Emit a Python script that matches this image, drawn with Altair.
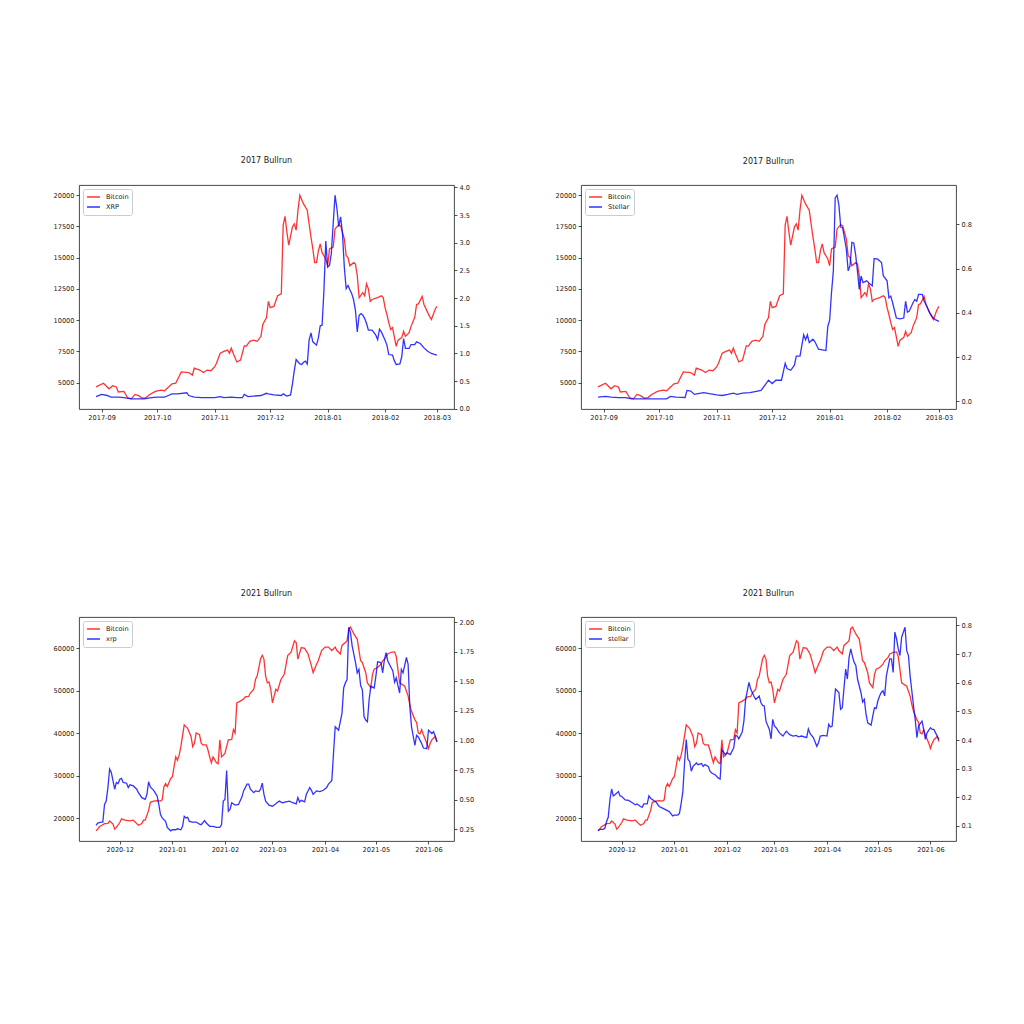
import altair as alt
import pandas as pd

# ---------------- 2017 data ----------------
btc17_dates = ["2017-08-29","2017-09-02","2017-09-05","2017-09-07","2017-09-09","2017-09-10","2017-09-13","2017-09-15","2017-09-17","2017-09-19","2017-09-21","2017-09-23","2017-09-25","2017-09-27","2017-09-30","2017-10-03","2017-10-05","2017-10-09","2017-10-11","2017-10-14","2017-10-18","2017-10-20","2017-10-21","2017-10-24","2017-10-26","2017-10-28","2017-10-30","2017-11-01","2017-11-02","2017-11-04","2017-11-06","2017-11-08","2017-11-09","2017-11-10","2017-11-11","2017-11-13","2017-11-15","2017-11-17","2017-11-18","2017-11-20","2017-11-22","2017-11-24","2017-11-26","2017-11-27","2017-11-29","2017-11-30","2017-12-01","2017-12-03","2017-12-05","2017-12-07","2017-12-08","2017-12-09","2017-12-10","2017-12-11","2017-12-13","2017-12-14","2017-12-15","2017-12-16","2017-12-17","2017-12-19","2017-12-21","2017-12-22","2017-12-23","2017-12-24","2017-12-25","2017-12-26","2017-12-27","2017-12-28","2017-12-29","2017-12-31","2018-01-01","2018-01-02","2018-01-04","2018-01-05","2018-01-07","2018-01-08","2018-01-10","2018-01-11","2018-01-12","2018-01-13","2018-01-15","2018-01-16","2018-01-17","2018-01-18","2018-01-20","2018-01-21","2018-01-22","2018-01-23","2018-01-24","2018-01-25","2018-01-28","2018-01-30","2018-01-31","2018-02-01","2018-02-02","2018-02-03","2018-02-04","2018-02-05","2018-02-07","2018-02-08","2018-02-10","2018-02-11","2018-02-12","2018-02-14","2018-02-15","2018-02-17","2018-02-18","2018-02-19","2018-02-21","2018-02-22","2018-02-24","2018-02-25","2018-02-26","2018-02-28","2018-03-01"]
btc17_vals = [4650,4950,4500,4750,4650,4250,4300,3800,3700,4050,3950,3750,3800,4050,4300,4400,4350,4900,4950,5850,5800,5600,6150,6000,5800,6000,5950,6250,6550,7350,7500,7600,7350,7750,7350,6650,6800,7950,7900,8300,8400,8300,8700,9650,10200,11500,11000,11100,11950,12100,17600,18300,17050,16000,17450,17700,17200,18800,20000,19300,18800,17700,16650,15700,14600,14600,15550,16100,15400,14900,14350,15700,15850,17300,17650,17550,16500,15150,15000,14350,14600,14500,13550,11800,12200,11950,12900,12500,11500,11650,11800,11950,11800,11000,10450,9800,9250,9400,7900,8400,8600,9100,8700,9000,9500,10200,11250,11300,11900,11250,10600,10300,10050,10850,11100]

xrp17_dates = ["2017-08-29","2017-09-01","2017-09-04","2017-09-06","2017-09-10","2017-09-13","2017-09-17","2017-09-21","2017-09-24","2017-09-28","2017-10-01","2017-10-05","2017-10-07","2017-10-09","2017-10-12","2017-10-17","2017-10-18","2017-10-21","2017-10-25","2017-10-28","2017-11-01","2017-11-04","2017-11-06","2017-11-10","2017-11-13","2017-11-16","2017-11-17","2017-11-19","2017-11-22","2017-11-26","2017-11-29","2017-11-30","2017-12-03","2017-12-07","2017-12-08","2017-12-10","2017-12-12","2017-12-13","2017-12-14","2017-12-15","2017-12-16","2017-12-17","2017-12-18","2017-12-19","2017-12-20","2017-12-21","2017-12-22","2017-12-23","2017-12-24","2017-12-25","2017-12-26","2017-12-27","2017-12-28","2017-12-29","2017-12-30","2017-12-31","2018-01-01","2018-01-02","2018-01-03","2018-01-04","2018-01-05","2018-01-06","2018-01-07","2018-01-08","2018-01-09","2018-01-10","2018-01-11","2018-01-12","2018-01-13","2018-01-14","2018-01-15","2018-01-16","2018-01-17","2018-01-18","2018-01-19","2018-01-20","2018-01-21","2018-01-22","2018-01-23","2018-01-25","2018-01-27","2018-01-28","2018-01-29","2018-01-30","2018-02-01","2018-02-02","2018-02-03","2018-02-05","2018-02-06","2018-02-07","2018-02-09","2018-02-10","2018-02-11","2018-02-12","2018-02-14","2018-02-15","2018-02-17","2018-02-18","2018-02-20","2018-02-22","2018-02-24","2018-02-26","2018-02-28","2018-03-01"]
xrp17_vals = [0.22,0.26,0.24,0.21,0.21,0.20,0.18,0.18,0.18,0.20,0.21,0.21,0.24,0.27,0.27,0.29,0.24,0.21,0.20,0.20,0.20,0.22,0.20,0.21,0.20,0.20,0.26,0.22,0.23,0.24,0.28,0.27,0.25,0.24,0.27,0.23,0.25,0.45,0.69,0.89,0.85,0.81,0.80,0.84,0.86,0.81,1.24,1.37,1.21,1.18,1.15,1.28,1.50,1.51,2.14,3.03,2.56,2.59,2.81,3.35,3.86,3.62,3.29,3.47,3.17,2.56,2.17,2.23,2.15,2.08,1.97,1.78,1.39,1.69,1.72,1.69,1.63,1.54,1.42,1.42,1.33,1.25,1.44,1.39,1.24,1.15,0.98,0.97,0.87,0.80,0.81,0.94,1.27,1.09,1.09,1.16,1.16,1.21,1.18,1.10,1.04,1.00,0.98,0.97]

xlm17_dates = ["2017-08-29","2017-09-02","2017-09-05","2017-09-09","2017-09-13","2017-09-16","2017-09-20","2017-09-24","2017-09-30","2017-10-05","2017-10-07","2017-10-10","2017-10-15","2017-10-16","2017-10-18","2017-10-20","2017-10-22","2017-10-25","2017-10-28","2017-11-01","2017-11-04","2017-11-07","2017-11-10","2017-11-12","2017-11-15","2017-11-19","2017-11-25","2017-11-27","2017-11-29","2017-12-01","2017-12-03","2017-12-06","2017-12-07","2017-12-08","2017-12-09","2017-12-11","2017-12-13","2017-12-14","2017-12-16","2017-12-18","2017-12-19","2017-12-20","2017-12-21","2017-12-23","2017-12-24","2017-12-26","2017-12-28","2017-12-30","2017-12-31","2018-01-01","2018-01-02","2018-01-03","2018-01-04","2018-01-05","2018-01-06","2018-01-07","2018-01-08","2018-01-10","2018-01-11","2018-01-12","2018-01-13","2018-01-14","2018-01-15","2018-01-16","2018-01-17","2018-01-18","2018-01-19","2018-01-21","2018-01-22","2018-01-24","2018-01-25","2018-01-27","2018-01-29","2018-01-30","2018-02-01","2018-02-02","2018-02-03","2018-02-04","2018-02-06","2018-02-08","2018-02-10","2018-02-11","2018-02-12","2018-02-13","2018-02-15","2018-02-16","2018-02-17","2018-02-18","2018-02-20","2018-02-21","2018-02-22","2018-02-24","2018-02-26","2018-02-27","2018-03-01"]
xlm17_vals = [0.020,0.023,0.020,0.017,0.017,0.012,0.012,0.012,0.012,0.012,0.023,0.020,0.018,0.050,0.047,0.032,0.035,0.040,0.035,0.030,0.027,0.032,0.038,0.032,0.038,0.040,0.050,0.073,0.096,0.081,0.096,0.096,0.134,0.172,0.149,0.141,0.164,0.205,0.205,0.301,0.278,0.301,0.266,0.281,0.271,0.236,0.233,0.230,0.339,0.367,0.491,0.590,0.920,0.932,0.887,0.788,0.785,0.689,0.590,0.613,0.719,0.716,0.666,0.590,0.506,0.567,0.537,0.545,0.537,0.522,0.646,0.643,0.628,0.567,0.545,0.468,0.476,0.446,0.377,0.373,0.377,0.453,0.403,0.408,0.446,0.461,0.453,0.484,0.484,0.453,0.438,0.400,0.377,0.370,0.362]

# ---------------- 2021 data ----------------
btc21_dates = ["2020-11-17","2020-11-18","2020-11-19","2020-11-20","2020-11-22","2020-11-24","2020-11-25","2020-11-27","2020-11-28","2020-11-29","2020-12-01","2020-12-02","2020-12-04","2020-12-07","2020-12-09","2020-12-11","2020-12-12","2020-12-14","2020-12-15","2020-12-16","2020-12-18","2020-12-19","2020-12-21","2020-12-23","2020-12-25","2020-12-26","2020-12-27","2020-12-28","2020-12-29","2020-12-31","2021-01-01","2021-01-02","2021-01-03","2021-01-04","2021-01-05","2021-01-06","2021-01-08","2021-01-09","2021-01-10","2021-01-12","2021-01-13","2021-01-14","2021-01-15","2021-01-17","2021-01-18","2021-01-19","2021-01-21","2021-01-22","2021-01-23","2021-01-24","2021-01-25","2021-01-27","2021-01-28","2021-01-29","2021-01-30","2021-02-01","2021-02-02","2021-02-03","2021-02-05","2021-02-06","2021-02-07","2021-02-08","2021-02-10","2021-02-12","2021-02-13","2021-02-15","2021-02-16","2021-02-18","2021-02-19","2021-02-20","2021-02-22","2021-02-23","2021-02-24","2021-02-25","2021-02-26","2021-02-27","2021-02-28","2021-03-01","2021-03-03","2021-03-04","2021-03-06","2021-03-08","2021-03-10","2021-03-12","2021-03-14","2021-03-15","2021-03-16","2021-03-18","2021-03-20","2021-03-22","2021-03-24","2021-03-25","2021-03-27","2021-03-28","2021-03-30","2021-04-01","2021-04-03","2021-04-04","2021-04-05","2021-04-07","2021-04-08","2021-04-10","2021-04-11","2021-04-13","2021-04-14","2021-04-15","2021-04-16","2021-04-17","2021-04-18","2021-04-20","2021-04-21","2021-04-22","2021-04-23","2021-04-25","2021-04-26","2021-04-28","2021-04-29","2021-04-30","2021-05-02","2021-05-04","2021-05-05","2021-05-07","2021-05-08","2021-05-10","2021-05-12","2021-05-13","2021-05-15","2021-05-18","2021-05-20","2021-05-21","2021-05-22","2021-05-24","2021-05-25","2021-05-26","2021-05-27","2021-05-28","2021-05-29","2021-05-31","2021-06-01","2021-06-02","2021-06-03","2021-06-05","2021-06-06"]
btc21_vals = [17000,17400,17950,18200,18700,18750,19300,18600,17400,17800,18950,19800,19500,19350,19500,18700,18300,18700,19500,19500,21800,23700,24000,24100,24000,24300,27300,28100,27400,29300,29700,32100,34400,33600,34800,36800,41900,41500,41100,39200,36800,37600,40000,39600,37600,37200,37200,36000,34400,33000,34400,33000,32800,38400,34400,35200,36800,38400,38500,40800,40000,47100,47500,48000,48500,48600,49400,50300,52600,53400,57400,58300,57400,53400,51800,52000,50300,47100,50300,49900,52600,53800,58200,59000,61700,61300,57400,60100,59900,58600,55800,54200,56200,57000,59400,60200,60200,59800,59400,60200,59400,58600,60600,61300,61700,64500,64900,64100,63300,62100,59500,57000,56600,54200,51800,50700,53800,55000,55400,56200,57000,57800,58600,59000,59100,58000,51800,51000,48700,46700,45100,43100,42500,40000,39800,40800,39600,37600,36400,37600,38400,39200,38000]

xrp21_dates = ["2020-11-17","2020-11-18","2020-11-20","2020-11-21","2020-11-22","2020-11-23","2020-11-24","2020-11-25","2020-11-26","2020-11-27","2020-11-28","2020-11-29","2020-11-30","2020-12-01","2020-12-02","2020-12-03","2020-12-05","2020-12-06","2020-12-07","2020-12-09","2020-12-11","2020-12-12","2020-12-14","2020-12-16","2020-12-17","2020-12-18","2020-12-19","2020-12-21","2020-12-23","2020-12-24","2020-12-25","2020-12-26","2020-12-28","2020-12-29","2020-12-31","2021-01-01","2021-01-03","2021-01-04","2021-01-06","2021-01-07","2021-01-08","2021-01-09","2021-01-10","2021-01-11","2021-01-13","2021-01-15","2021-01-17","2021-01-18","2021-01-20","2021-01-21","2021-01-23","2021-01-25","2021-01-27","2021-01-29","2021-01-30","2021-01-31","2021-02-01","2021-02-02","2021-02-03","2021-02-04","2021-02-05","2021-02-07","2021-02-09","2021-02-11","2021-02-12","2021-02-14","2021-02-15","2021-02-16","2021-02-18","2021-02-19","2021-02-21","2021-02-22","2021-02-23","2021-02-24","2021-02-25","2021-02-27","2021-03-01","2021-03-03","2021-03-05","2021-03-07","2021-03-09","2021-03-11","2021-03-13","2021-03-15","2021-03-16","2021-03-17","2021-03-18","2021-03-20","2021-03-21","2021-03-23","2021-03-24","2021-03-25","2021-03-27","2021-03-29","2021-03-31","2021-04-02","2021-04-03","2021-04-05","2021-04-06","2021-04-07","2021-04-08","2021-04-09","2021-04-11","2021-04-12","2021-04-13","2021-04-14","2021-04-15","2021-04-16","2021-04-17","2021-04-19","2021-04-20","2021-04-21","2021-04-22","2021-04-23","2021-04-24","2021-04-25","2021-04-26","2021-04-27","2021-04-28","2021-04-30","2021-05-01","2021-05-02","2021-05-04","2021-05-05","2021-05-06","2021-05-07","2021-05-08","2021-05-10","2021-05-11","2021-05-12","2021-05-13","2021-05-15","2021-05-16","2021-05-17","2021-05-19","2021-05-20","2021-05-21","2021-05-22","2021-05-24","2021-05-25","2021-05-26","2021-05-28","2021-05-29","2021-05-31","2021-06-01","2021-06-03","2021-06-04","2021-06-05","2021-06-06"]
xrp21_vals = [0.284,0.304,0.312,0.312,0.461,0.489,0.603,0.760,0.731,0.660,0.589,0.646,0.637,0.674,0.680,0.646,0.640,0.603,0.626,0.617,0.589,0.560,0.518,0.503,0.546,0.652,0.609,0.580,0.532,0.461,0.375,0.347,0.318,0.267,0.238,0.247,0.247,0.255,0.247,0.276,0.361,0.347,0.352,0.318,0.312,0.312,0.295,0.290,0.324,0.304,0.276,0.276,0.267,0.267,0.290,0.489,0.503,0.746,0.404,0.418,0.475,0.455,0.461,0.523,0.575,0.632,0.632,0.589,0.560,0.575,0.569,0.589,0.640,0.546,0.489,0.455,0.446,0.466,0.489,0.475,0.483,0.489,0.475,0.466,0.518,0.481,0.495,0.483,0.546,0.603,0.580,0.546,0.575,0.569,0.580,0.603,0.632,0.660,0.888,1.116,1.102,1.088,1.230,1.444,1.487,1.515,1.957,1.914,1.800,1.658,1.572,1.601,1.464,1.430,1.202,1.173,1.159,1.344,1.458,1.444,1.544,1.664,1.658,1.572,1.681,1.743,1.672,1.615,1.587,1.493,1.530,1.401,1.601,1.572,1.701,1.644,1.287,1.116,0.960,1.045,1.031,0.974,0.937,0.931,1.088,1.059,1.074,1.037,0.988]

xlm21_dates = ["2020-11-17","2020-11-18","2020-11-20","2020-11-21","2020-11-22","2020-11-23","2020-11-24","2020-11-25","2020-11-26","2020-11-27","2020-11-29","2020-11-30","2020-12-01","2020-12-03","2020-12-05","2020-12-07","2020-12-09","2020-12-10","2020-12-12","2020-12-13","2020-12-14","2020-12-16","2020-12-17","2020-12-18","2020-12-20","2020-12-21","2020-12-23","2020-12-25","2020-12-27","2020-12-29","2020-12-31","2021-01-01","2021-01-03","2021-01-04","2021-01-05","2021-01-06","2021-01-07","2021-01-08","2021-01-09","2021-01-10","2021-01-11","2021-01-12","2021-01-14","2021-01-15","2021-01-17","2021-01-18","2021-01-19","2021-01-21","2021-01-22","2021-01-23","2021-01-25","2021-01-27","2021-01-28","2021-01-29","2021-01-31","2021-02-01","2021-02-03","2021-02-05","2021-02-06","2021-02-07","2021-02-08","2021-02-10","2021-02-11","2021-02-12","2021-02-14","2021-02-15","2021-02-17","2021-02-18","2021-02-20","2021-02-21","2021-02-22","2021-02-23","2021-02-24","2021-02-26","2021-02-27","2021-02-28","2021-03-01","2021-03-02","2021-03-04","2021-03-06","2021-03-08","2021-03-10","2021-03-12","2021-03-14","2021-03-15","2021-03-17","2021-03-20","2021-03-21","2021-03-22","2021-03-24","2021-03-26","2021-03-27","2021-03-28","2021-03-30","2021-04-01","2021-04-02","2021-04-03","2021-04-04","2021-04-05","2021-04-06","2021-04-08","2021-04-09","2021-04-10","2021-04-12","2021-04-13","2021-04-14","2021-04-15","2021-04-16","2021-04-17","2021-04-18","2021-04-19","2021-04-21","2021-04-22","2021-04-23","2021-04-24","2021-04-25","2021-04-27","2021-04-28","2021-04-29","2021-04-30","2021-05-01","2021-05-02","2021-05-03","2021-05-04","2021-05-05","2021-05-06","2021-05-08","2021-05-09","2021-05-10","2021-05-11","2021-05-12","2021-05-13","2021-05-14","2021-05-15","2021-05-17","2021-05-18","2021-05-19","2021-05-20","2021-05-22","2021-05-23","2021-05-24","2021-05-25","2021-05-27","2021-05-28","2021-05-29","2021-05-30","2021-06-01","2021-06-02","2021-06-03","2021-06-04","2021-06-06"]
xlm21_vals = [0.083,0.088,0.088,0.092,0.115,0.130,0.191,0.229,0.205,0.209,0.220,0.205,0.203,0.191,0.189,0.182,0.174,0.177,0.168,0.165,0.177,0.177,0.205,0.197,0.188,0.185,0.168,0.162,0.156,0.150,0.135,0.138,0.138,0.144,0.179,0.220,0.320,0.402,0.332,0.326,0.291,0.308,0.320,0.314,0.318,0.308,0.314,0.308,0.291,0.285,0.279,0.267,0.264,0.367,0.349,0.355,0.349,0.373,0.416,0.414,0.404,0.428,0.466,0.542,0.601,0.578,0.552,0.542,0.554,0.531,0.521,0.519,0.466,0.437,0.404,0.472,0.449,0.443,0.425,0.414,0.431,0.419,0.414,0.416,0.411,0.414,0.408,0.439,0.423,0.408,0.378,0.390,0.414,0.416,0.414,0.455,0.446,0.448,0.513,0.578,0.566,0.507,0.513,0.648,0.613,0.689,0.718,0.692,0.671,0.660,0.613,0.566,0.533,0.542,0.490,0.460,0.452,0.484,0.513,0.510,0.537,0.554,0.566,0.572,0.554,0.624,0.683,0.683,0.636,0.777,0.753,0.718,0.695,0.759,0.794,0.712,0.695,0.624,0.519,0.472,0.408,0.449,0.466,0.437,0.402,0.425,0.443,0.437,0.437,0.425,0.402]

ticks17 = ["2017-09-01","2017-10-01","2017-11-01","2017-12-01","2018-01-01","2018-02-01","2018-03-01"]
ticks21 = ["2020-12-01","2021-01-01","2021-02-01","2021-03-01","2021-04-01","2021-05-01","2021-06-01"]

FONT = "DejaVu Sans"
W, H = 375, 224


def ms(s):
    return int(pd.Timestamp(s).value // 10**6)


def margin_domain(vals, frac=0.05):
    lo, hi = min(vals), max(vals)
    r = hi - lo
    return [lo - frac * r, hi + frac * r]


def panel(title, ldates, lvals, rdates, rvals, rname, lticks, rticks, rfmt, xticks):
    d0 = min(pd.Timestamp(x) for x in ldates + rdates)
    d1 = max(pd.Timestamp(x) for x in ldates + rdates)
    pad = (d1 - d0) * 0.05
    xdom = [int((d0 - pad).value // 10**6), int((d1 + pad).value // 10**6)]
    left = pd.DataFrame({"date": ldates, "value": lvals, "series": "Bitcoin"})
    right = pd.DataFrame({"date": rdates, "value": rvals, "series": rname})
    color = alt.Color(
        "series:N",
        scale=alt.Scale(domain=["Bitcoin", rname], range=["red", "blue"]),
        legend=alt.Legend(
            title=None, orient="top-left", offset=4, padding=3,
            strokeColor="#cccccc", fillColor="white", cornerRadius=2,
            symbolType="stroke", symbolSize=170, symbolStrokeWidth=1.5,
            symbolOpacity=0.8, labelFont=FONT, labelFontSize=6.6,
            labelColor="#222", labelOffset=5, rowPadding=0, clipHeight=10,
        ),
    )
    x = alt.X(
        "date:T",
        scale=alt.Scale(type="utc", domain=xdom),
        axis=alt.Axis(values=[ms(t) for t in xticks],
                      labelExpr="utcFormat(datum.value, '%Y-%m')",
                      title=None, labelFlush=False, labelOverlap=False),
    )
    l = alt.Chart(left).mark_line(strokeWidth=1.3, opacity=0.8).encode(
        x=x,
        y=alt.Y("value:Q",
                scale=alt.Scale(domain=margin_domain(lvals), nice=False, zero=False),
                axis=alt.Axis(orient="left", values=lticks, format="d", title=None)),
        color=color,
    )
    r = alt.Chart(right).mark_line(strokeWidth=1.3, opacity=0.8).encode(
        x=x,
        y=alt.Y("value:Q",
                scale=alt.Scale(domain=margin_domain(rvals), nice=False, zero=False),
                axis=alt.Axis(orient="right", values=rticks, format=rfmt, title=None)),
        color=color,
    )
    return alt.layer(l, r).resolve_scale(y="independent").properties(
        width=W, height=H,
        title=alt.TitleParams(title, font=FONT, fontSize=8, fontWeight="normal",
                              color="#222", offset=19, anchor="middle"),
    )


p1 = panel("2017 Bullrun", btc17_dates, btc17_vals, xrp17_dates, xrp17_vals, "XRP",
           [5000, 7500, 10000, 12500, 15000, 17500, 20000],
           [0.0, 0.5, 1.0, 1.5, 2.0, 2.5, 3.0, 3.5, 4.0], ".1f", ticks17)
p2 = panel("2017 Bullrun", btc17_dates, btc17_vals, xlm17_dates, xlm17_vals, "Stellar",
           [5000, 7500, 10000, 12500, 15000, 17500, 20000],
           [0.0, 0.2, 0.4, 0.6, 0.8], ".1f", ticks17)
p3 = panel("2021 Bullrun", btc21_dates, btc21_vals, xrp21_dates, xrp21_vals, "xrp",
           [20000, 30000, 40000, 50000, 60000],
           [0.25, 0.5, 0.75, 1.0, 1.25, 1.5, 1.75, 2.0], ".2f", ticks21)
p4 = panel("2021 Bullrun", btc21_dates, btc21_vals, xlm21_dates, xlm21_vals, "stellar",
           [20000, 30000, 40000, 50000, 60000],
           [0.1, 0.2, 0.3, 0.4, 0.5, 0.6, 0.7, 0.8], ".1f", ticks21)

chart = (
    alt.ConcatChart(concat=[p1, p2, p3, p4], columns=2,
                    spacing={"row": 208, "column": 127}, bounds="flush")
    .resolve_scale(color="independent")
    .properties(padding={"left": 44, "top": 148, "right": 10, "bottom": 10},
                background="white")
    .configure_axis(labelFont=FONT, labelFontSize=6.6, labelColor="#222",
                    tickColor="#222", tickSize=3, tickWidth=0.8, domain=False,
                    grid=False, labelPadding=2)
    .configure_view(stroke="#333", strokeWidth=0.9)
)

chart.save("out.html", embed_options={"renderer": "svg", "actions": False})
